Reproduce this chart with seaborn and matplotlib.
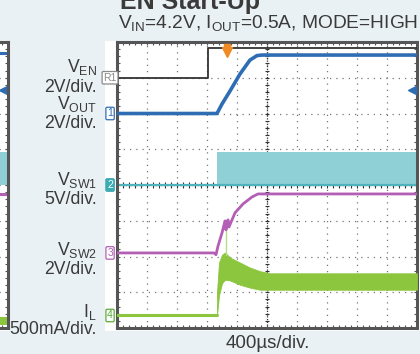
import numpy as np
import pandas as pd
import matplotlib
matplotlib.use("Agg")
import matplotlib.pyplot as plt
import seaborn as sns
from matplotlib.patches import Rectangle
from matplotlib.ticker import MultipleLocator

# ---------------- data (time in µs, 400 µs/div, trigger at centre) ----------------
ven_t = [-2000, -787, -787, 2000]
ven_v = [0.0, 0.0, 1.68, 1.68]

vout_t = [-2000, -667, -600, -493, -360, -227, -133, -67, 2000]
vout_v = [0.0, 0.0, 0.53, 1.26, 2.21, 2.99, 3.24, 3.27, 3.27]

vsw1_t = [-2000, 2000]
vsw1_v = [0.0, 0.0]
vsw1_band_t = [-667, 2000]
vsw1_band_hi = [4.6, 4.6]

vsw2_t = [-2000, -707, -680, -653, -600, -560, -547, -520, -507, -427, -320, -200, -120, 2000]
vsw2_v = [0.0, 0.0, -0.1, 0.39, 1.12, 1.79, 1.29, 1.85, 1.45, 2.24, 2.74, 3.13, 3.30, 3.30]

il_t = [-2000, -667]
il_a = [0.0, 0.0]
il_band_t = [-667, -640, -600, -560, -493, -360, -227, -93, 40, 2000]
il_band_hi = [0.32, 0.74, 0.85, 0.88, 0.81, 0.74, 0.67, 0.62, 0.59, 0.59]
il_band_lo = [0.00, 0.28, 0.45, 0.50, 0.49, 0.43, 0.39, 0.36, 0.36, 0.36]
il_spike_t = [-547, -547]
il_spike_a = [0.85, 1.23]

# channel reference levels (divisions) and scales (units/div)
ref = {"EN": 7.0, "OUT": 6.0, "SW1": 4.0, "SW2": 2.1, "IL": 0.35}
scale = {"EN": 2.0, "OUT": 2.0, "SW1": 5.0, "SW2": 2.0, "IL": 0.5}

# neighbouring (cropped) panel, right end only, in divisions
left_blue_div = 7.69
left_teal_lo, left_teal_hi = 4.0, 4.92
left_mag_div = 3.75
left_green_lo, left_green_hi = 0.08, 0.31

labels = [("V$_{EN}$", 67), ("2V/div.", 87), ("V$_{OUT}$", 104), ("2V/div.", 123),
          ("V$_{SW1}$", 180), ("5V/div.", 200), ("V$_{SW2}$", 250), ("2V/div.", 270),
          ("I$_{L}$", 312), ("500mA/div.", 330)]
title = "EN Start-Up"
subtitle = "V$_{IN}$=4.2V, I$_{OUT}$=0.5A, MODE=HIGH"
xlabel = "400µs/div."

C_EN, C_OUT, C_SW1, C_SW1L, C_SW2, C_IL = "#333333", "#2e6db4", "#8fd0d6", "#4fb3bd", "#b25fb5", "#8cc63e"
BG = "#e9f1f5"
TXT = "#3a3a3a"

sns.set_style("white")
plt.rcParams['font.family'] = ['Liberation Sans', 'DejaVu Sans']
plt.rcParams['mathtext.fontset'] = 'custom'
plt.rcParams['mathtext.rm'] = 'Liberation Sans'
plt.rcParams['mathtext.it'] = 'Liberation Sans'
plt.rcParams['mathtext.default'] = 'regular'

W, H = 420, 354
fig = plt.figure(figsize=(W / 100, H / 100), dpi=100, facecolor=BG)

# white scope screenshot background
fig.add_artist(Rectangle((105 / W, (H - 331) / H), 315 / W, 290 / H, transform=fig.transFigure,
                         fc="white", ec="none", zorder=-5))
fig.add_artist(Rectangle((0, (H - 331) / H), 10 / W, 290 / H, transform=fig.transFigure,
                         fc="white", ec="none", zorder=-5))


def dress(ax):
    ax.set_xlim(-2000, 2000)
    ax.set_ylim(0, 8)
    ax.set_facecolor("white")
    ax.xaxis.set_major_locator(MultipleLocator(400))
    ax.yaxis.set_major_locator(MultipleLocator(1))
    ax.xaxis.set_minor_locator(MultipleLocator(80))
    ax.yaxis.set_minor_locator(MultipleLocator(0.2))
    ax.grid(True, which="major", ls=(0, (1, 4)), color="#777777", lw=0.9)
    ax.tick_params(which="both", direction="in", length=2.5, width=0.8, color="#555",
                   top=True, right=True, bottom=True, left=True,
                   labelbottom=False, labelleft=False)
    for s in ax.spines.values():
        s.set_color("#555555")
        s.set_linewidth(2.2)
    ax.set_xlabel("")
    ax.set_ylabel("")


def line(ax, t, v, ch, color, lw, z=3):
    d = pd.DataFrame({"t": t, "y": [ref[ch] + x / scale[ch] for x in v]})
    sns.lineplot(data=d, x="t", y="y", ax=ax, color=color, lw=lw, sort=False,
                 estimator=None, zorder=z)


# ---------------- cropped neighbour panel ----------------
axl = fig.add_axes([(8 - 300) / W, (H - 328) / H, 300 / W, 286 / H])
dress(axl)
axl.axhspan(left_teal_lo, left_teal_hi, xmin=0.5, color=C_SW1, lw=0)
axl.axhline(left_blue_div, color=C_OUT, lw=2.2)
axl.axhline(left_mag_div, color=C_SW2, lw=2.2)
axl.axhspan(left_green_lo, left_green_hi, xmin=0.5, color=C_IL, lw=0)
axl.plot([1930], [ref["OUT"] + 1.3 / scale["OUT"]], marker="<", ms=6, color=C_OUT, clip_on=False)

# ---------------- main panel ----------------
ax = fig.add_axes([117 / W, (H - 328) / H, 300 / W, 286 / H])
dress(ax)

# centre cross with fine ticks
ax.axvline(0, ls=(0, (1, 1.2)), color="#333", lw=0.9, zorder=1)
ax.axhline(4, ls=(0, (1, 1.2)), color="#333", lw=0.9, zorder=1)
ax.vlines(np.arange(-2000, 2001, 80), 3.93, 4.07, color="#333", lw=0.8, zorder=1)
ax.hlines(np.arange(0, 8.01, 0.2), -30, 30, color="#333", lw=0.8, zorder=1)

# VSW1 band
ax.fill_between(vsw1_band_t, ref["SW1"], [ref["SW1"] + v / scale["SW1"] for v in vsw1_band_hi],
                color=C_SW1, lw=0, zorder=2)
line(ax, vsw1_t, vsw1_v, "SW1", C_SW1L, 1.6, z=2)

# IL band
ax.fill_between(il_band_t, [ref["IL"] + v / scale["IL"] for v in il_band_lo],
                [ref["IL"] + v / scale["IL"] for v in il_band_hi], color=C_IL, lw=0.6,
                edgecolor=C_IL, zorder=3)
line(ax, il_t, il_a, "IL", C_IL, 2.2)
line(ax, il_spike_t, il_spike_a, "IL", "#b5dc86", 1.0)

line(ax, vsw2_t, vsw2_v, "SW2", C_SW2, 2.0)
line(ax, vout_t, vout_v, "OUT", C_OUT, 2.6)
line(ax, ven_t, ven_v, "EN", C_EN, 1.3, z=4)

# markers: trigger and ref arrow
ax.plot([-533], [7.72], marker="v", ms=7.5, color="#f08a24", clip_on=False, zorder=6)
ax.plot([-533], [7.86], marker="s", ms=5, color="#f08a24", clip_on=False, zorder=6)
ax.plot([1930], [ref["OUT"] + 1.3 / scale["OUT"]], marker="<", ms=6, color=C_OUT,
        clip_on=False, zorder=6)

# channel tags
tags = [("R1", ref["EN"], "#8a8a8a", "white", "#8a8a8a"),
        ("1", ref["OUT"], C_OUT, "white", C_OUT),
        ("2", ref["SW1"], "#3aaab3", "#3aaab3", "white"),
        ("3", ref["SW2"], C_SW2, "white", C_SW2),
        ("4", ref["IL"], "#5aab3a", "white", "#5aab3a")]
for txt, yy, ec, fc, tc in tags:
    ax.annotate(txt, xy=(0, yy), xycoords=("axes fraction", "data"), xytext=(-5, 0),
                textcoords="offset points", ha="center", va="center", fontsize=7.5,
                color=tc, annotation_clip=False,
                bbox=dict(boxstyle="round,pad=0.12", fc=fc, ec=ec, lw=0.9), zorder=7)

# ---------------- texts ----------------
for s, y in labels:
    fig.text(97 / W, 1 - y / H, s, ha="right", va="center", fontsize=12.7, color=TXT)
fig.text(120 / W, 1 - 9 / H, title, ha="left", va="baseline", fontsize=18,
         fontweight="bold", color=TXT)
fig.text(118 / W, 1 - 28 / H, subtitle, ha="left", va="baseline", fontsize=13.8, color=TXT)
fig.text(268 / W, 1 - 343 / H, xlabel, ha="center", va="center", fontsize=13.5, color=TXT)

fig.savefig("out.png", dpi=100, facecolor=BG)
